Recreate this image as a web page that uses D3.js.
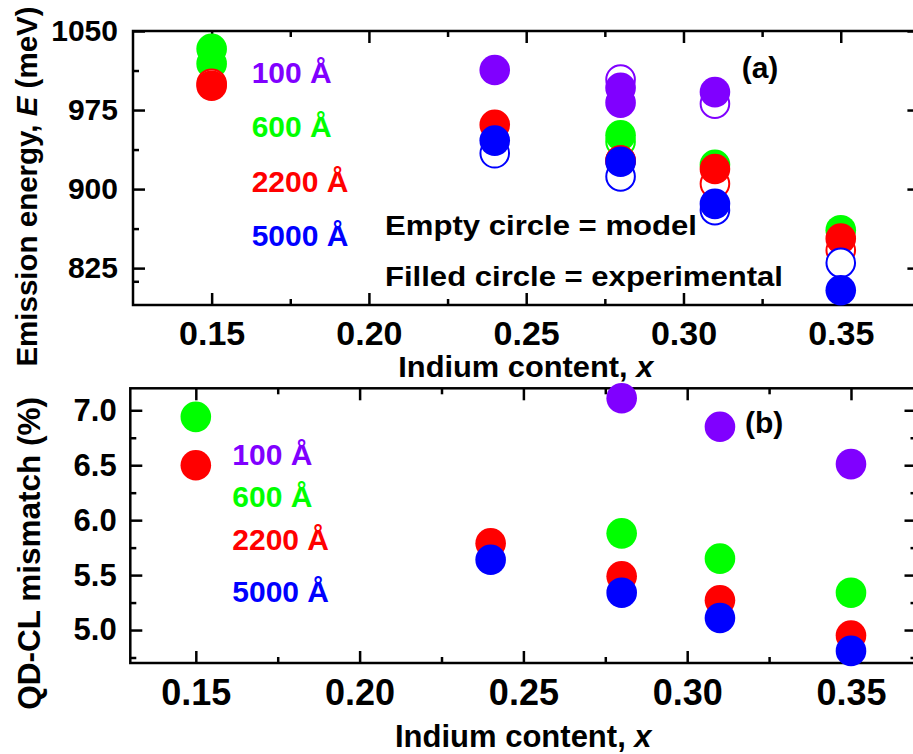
<!DOCTYPE html>
<html>
<head>
<meta charset="utf-8">
<script src="https://cdn.jsdelivr.net/npm/d3@7"></script>
<style>
  html, body { margin: 0; padding: 0; background: #fff; }
  svg { display: block; font-family: Arial, "Liberation Sans", sans-serif; font-weight: bold; }
</style>
</head>
<body>
<div id="chart"></div>
<script>
// series names and colours
const seriesNames = ["100 Å", "600 Å", "2200 Å", "5000 Å"];
const seriesColors = ["#8000ff", "#00ff00", "#ff0000", "#0000ff"];

// (a) emission energy (meV), experimental = filled, model = empty
const exp100 = [[0.24, 1013], [0.28, 996], [0.28, 982], [0.31, 992]];
const model100 = [[0.28, 1004], [0.31, 981]];
const exp600 = [[0.15, 1033], [0.15, 1019], [0.28, 951], [0.31, 923], [0.35, 861]];
const model600 = [[0.28, 945]];
const exp2200 = [[0.15, 998], [0.24, 961], [0.28, 927], [0.31, 919], [0.35, 853]];
const model2200 = [[0.15, 1000], [0.28, 927], [0.31, 905], [0.35, 842]];
const exp5000 = [[0.24, 946], [0.28, 926], [0.31, 886], [0.35, 804]];
const model5000 = [[0.24, 934], [0.28, 912], [0.31, 880], [0.35, 830]];

// (b) QD-CL mismatch (%)
const mis100 = [[0.28, 7.11], [0.31, 6.85], [0.35, 6.51]];
const mis600 = [[0.15, 6.94], [0.28, 5.88], [0.31, 5.65], [0.35, 5.34]];
const mis2200 = [[0.15, 6.50], [0.24, 5.79], [0.28, 5.49], [0.31, 5.27], [0.35, 4.95]];
const mis5000 = [[0.24, 5.64], [0.28, 5.34], [0.31, 5.11], [0.35, 4.81]];

// ticks
const xMajor = [0.15, 0.20, 0.25, 0.30, 0.35];
const xMinor = [0.175, 0.225, 0.275, 0.325];
const eMajor = [825, 900, 975, 1050];
const eMinor = [812.5, 862.5, 937.5, 1012.5];
const mMajor = [5.0, 5.5, 6.0, 6.5, 7.0];
const mMinor = [4.75, 5.25, 5.75, 6.25, 6.75];

const width = 913, height = 754;
const R = 15.3;

const svg = d3.select("#chart").append("svg")
    .attr("width", width)
    .attr("height", height);

// scales
const xTop = d3.scaleLinear().domain([0.125, 0.375]).range([133, 919.4]);
const yTop = d3.scaleLinear().domain([790, 1050]).range([305, 31]);
const xBot = d3.scaleLinear().domain([0.13, 0.37]).range([130.3, 916.5]);
const yBot = d3.scaleLinear().domain([4.7, 7.2]).range([663, 388.3]);

function styleAxis(g) {
    g.select(".domain").remove();
    g.selectAll(".tick line").attr("stroke", "#000").attr("stroke-width", 2.5);
    g.selectAll("text").attr("fill", "#000").style("font-weight", "bold");
}

function drawFrame(x, y, yMajor, yMinor, yFmt, opt) {
    const [x0, x1] = x.range();
    const [y0, y1] = y.range();
    const g = svg.append("g");

    // bottom, labelled
    g.append("g").attr("transform", "translate(0," + y0 + ")")
        .call(d3.axisBottom(x).tickValues(xMajor).tickSize(-12).tickPadding(opt.xPad).tickFormat(d3.format(".2f")))
        .call(styleAxis)
        .selectAll("text").style("font-size", opt.xFont + "px");
    g.append("g").attr("transform", "translate(0," + y0 + ")")
        .call(d3.axisBottom(x).tickValues(xMinor).tickSize(-6).tickFormat(""))
        .call(styleAxis);
    // top
    g.append("g").attr("transform", "translate(0," + y1 + ")")
        .call(d3.axisTop(x).tickValues(xMajor).tickSize(-12).tickFormat(""))
        .call(styleAxis);
    g.append("g").attr("transform", "translate(0," + y1 + ")")
        .call(d3.axisTop(x).tickValues(xMinor).tickSize(-6).tickFormat(""))
        .call(styleAxis);
    // left, labelled
    g.append("g").attr("transform", "translate(" + x0 + ",0)")
        .call(d3.axisLeft(y).tickValues(yMajor).tickSize(-12).tickPadding(opt.yPad).tickFormat(yFmt))
        .call(styleAxis)
        .selectAll("text").style("font-size", opt.yFont + "px");
    g.append("g").attr("transform", "translate(" + x0 + ",0)")
        .call(d3.axisLeft(y).tickValues(yMinor).tickSize(-6).tickFormat(""))
        .call(styleAxis);
    // right
    g.append("g").attr("transform", "translate(" + x1 + ",0)")
        .call(d3.axisRight(y).tickValues(yMajor).tickSize(-12).tickFormat(""))
        .call(styleAxis);
    g.append("g").attr("transform", "translate(" + x1 + ",0)")
        .call(d3.axisRight(y).tickValues(yMinor).tickSize(-6).tickFormat(""))
        .call(styleAxis);

    g.append("rect")
        .attr("x", x0).attr("y", y1)
        .attr("width", x1 - x0).attr("height", y0 - y1)
        .attr("fill", "none").attr("stroke", "#000").attr("stroke-width", 2.5);
}

drawFrame(xTop, yTop, eMajor, eMinor, d3.format("d"), {xPad: 16, xFont: 34, yPad: 15, yFont: 30});
drawFrame(xBot, yBot, mMajor, mMinor, d3.format(".1f"), {xPad: 16, xFont: 36, yPad: 13.6, yFont: 31});

// (a) points: per series, model (empty) first then experiment (filled)
const topModel = [model100, model600, model2200, model5000];
const topExp = [exp100, exp600, exp2200, exp5000];
const topMarks = svg.append("g");
for (let i = 0; i < 4; i++) {
    topMarks.selectAll(null).data(topModel[i]).enter().append("circle")
        .attr("cx", d => xTop(d[0]))
        .attr("cy", d => yTop(d[1]))
        .attr("r", R - 1)
        .attr("fill", "#fff")
        .attr("stroke", seriesColors[i])
        .attr("stroke-width", 2);
    topMarks.selectAll(null).data(topExp[i]).enter().append("circle")
        .attr("cx", d => xTop(d[0]))
        .attr("cy", d => yTop(d[1]))
        .attr("r", R)
        .attr("fill", seriesColors[i]);
}

// (b) points
const botSeries = [mis100, mis600, mis2200, mis5000];
const botMarks = svg.append("g");
for (let i = 0; i < 4; i++) {
    botMarks.selectAll(null).data(botSeries[i]).enter().append("circle")
        .attr("cx", d => xBot(d[0]))
        .attr("cy", d => yBot(d[1]))
        .attr("r", R)
        .attr("fill", seriesColors[i]);
}

// legends
const topLegendY = [82.7, 136.7, 191.7, 246];
const botLegendY = [465, 506.7, 550, 601.7];
seriesNames.forEach(function(name, i) {
    svg.append("text").attr("x", 251.7).attr("y", topLegendY[i])
        .attr("fill", seriesColors[i]).style("font-size", "30px").text(name);
    svg.append("text").attr("x", 232.3).attr("y", botLegendY[i])
        .attr("fill", seriesColors[i]).style("font-size", "30px").text(name);
});

// annotations
svg.append("text").attr("x", 385).attr("y", 235)
    .style("font-size", "28px")
    .attr("textLength", 312).attr("lengthAdjust", "spacingAndGlyphs")
    .text("Empty circle = model");
svg.append("text").attr("x", 385).attr("y", 286)
    .style("font-size", "28px")
    .attr("textLength", 398).attr("lengthAdjust", "spacingAndGlyphs")
    .text("Filled circle = experimental");
svg.append("text").attr("x", 741.7).attr("y", 78.3)
    .style("font-size", "30px").text("(a)");
svg.append("text").attr("x", 745).attr("y", 433.3)
    .style("font-size", "30px").text("(b)");

// axis titles
const t1 = svg.append("text")
    .attr("text-anchor", "middle")
    .attr("transform", "translate(36.7,186.5) rotate(-90)")
    .style("font-size", "29.5px");
t1.append("tspan").text("Emission energy, ");
t1.append("tspan").style("font-style", "italic").text("E");
t1.append("tspan").text(" (meV)");

const t2 = svg.append("text")
    .attr("text-anchor", "middle")
    .attr("x", 525.8).attr("y", 377)
    .style("font-size", "29px")
    .attr("textLength", 255).attr("lengthAdjust", "spacingAndGlyphs");
t2.append("tspan").text("Indium content, ");
t2.append("tspan").style("font-style", "italic").text("x");

svg.append("text")
    .attr("text-anchor", "middle")
    .attr("transform", "translate(40,553.3) rotate(-90)")
    .style("font-size", "31.5px")
    .text("QD-CL mismatch (%)");

const t4 = svg.append("text")
    .attr("text-anchor", "middle")
    .attr("x", 523.3).attr("y", 747.3)
    .style("font-size", "31px");
t4.append("tspan").text("Indium content, ");
t4.append("tspan").style("font-style", "italic").text("x");
</script>
</body>
</html>
